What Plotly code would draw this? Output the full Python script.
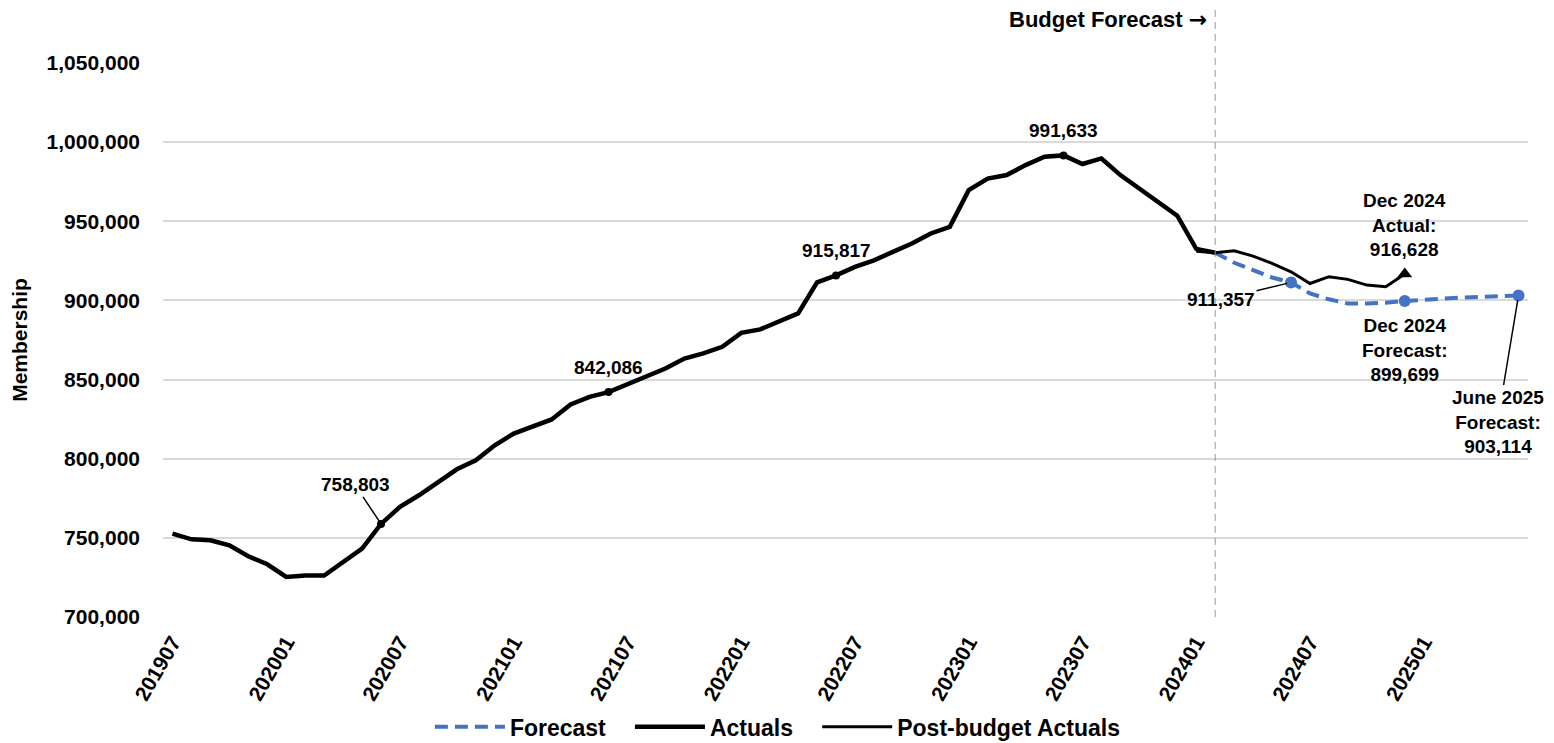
import plotly.graph_objects as go

# ---- categories (monthly, 201907 .. 202506)
months = []
y, m = 2019, 7
while (y, m) <= (2025, 6):
    months.append(f"{y}{m:02d}")
    m += 1
    if m > 12:
        m = 1
        y += 1

tick_labels = months[::6]

# ---- Actuals 201907 .. 202402
actuals = [752700, 749100, 748500, 745300, 738400, 733300, 725300, 726200, 726200, 734800,
           743200, 758803, 769600, 776900, 785300, 793300, 799000, 808500, 815900, 820100,
           824800, 834300, 839100, 842086, 847100, 851700, 857000, 863300, 866500, 870700,
           879500, 881700, 886500, 891800, 911400, 915817, 921200, 925300, 930700, 936000,
           942300, 946500, 969700, 977000, 979200, 985500, 990800, 991633, 986200, 989700,
           979200, 970800, 962300, 953500, 932600, 930100]
actuals_months = months[:len(actuals)]

# ---- Post-budget actuals 202401 .. 202412
post_actuals = [931000, 930100, 931400, 928000, 923400, 918100, 910700, 915000, 913300,
                909700, 908600, 916628]
post_months = months[54:54 + len(post_actuals)]

# ---- Forecast 202402 .. 202506
forecast = [930100, 923800, 919200, 914500, 911357, 904400, 900700, 898100, 898100, 898500,
            899699, 900600, 901300, 901800, 902200, 902500, 903114]
forecast_months = months[55:55 + len(forecast)]

actual_label_months = ["202006", "202106", "202206", "202306"]
forecast_label_months = ["202406", "202412", "202506"]
budget_month = "202402"

FONT = "Liberation Sans, Arial, sans-serif"
BLUE = "#4472C4"
PAD = "\u00a0" * 3

fig = go.Figure()

fig.add_trace(go.Scatter(
    x=forecast_months, y=forecast, name="Forecast" + PAD, mode="lines",
    line=dict(color=BLUE, width=4, dash="13px,7px"),
))
fig.add_trace(go.Scatter(
    x=actuals_months, y=actuals, name="Actuals" + PAD, mode="lines",
    line=dict(color="black", width=4.5),
))
fig.add_trace(go.Scatter(
    x=post_months, y=post_actuals, name="Post-budget Actuals", mode="lines",
    line=dict(color="black", width=3),
))

# markers on labelled points
a_lab_y = [actuals[actuals_months.index(mm)] for mm in actual_label_months]
fig.add_trace(go.Scatter(x=actual_label_months, y=a_lab_y, mode="markers",
                         marker=dict(color="black", size=8), showlegend=False, hoverinfo="skip"))
f_lab_y = [forecast[forecast_months.index(mm)] for mm in forecast_label_months]
fig.add_trace(go.Scatter(x=forecast_label_months, y=f_lab_y, mode="markers",
                         marker=dict(color=BLUE, size=12), showlegend=False, hoverinfo="skip"))
fig.add_trace(go.Scatter(x=[post_months[-1]], y=[post_actuals[-1]], mode="markers",
                         marker=dict(color="black", size=13, symbol="triangle-up"),
                         showlegend=False, hoverinfo="skip"))

LBL = dict(size=19, color="black")
ann = []
# 758,803 with leader line
v = a_lab_y[0]
ann.append(dict(x=months.index(actual_label_months[0]), y=v, xref="x", yref="y",
                text=f"{v:,}", showarrow=True, arrowhead=0, arrowwidth=1.5,
                arrowcolor="black", ax=-26, ay=-39, standoff=3, font=LBL))
# plain labels above points
for mm, v in zip(actual_label_months[1:], a_lab_y[1:]):
    ann.append(dict(x=months.index(mm), y=v, xref="x", yref="y", text=f"{v:,}",
                    showarrow=False, yanchor="middle", yshift=25, font=LBL))

f_vals = dict(zip(forecast_label_months, f_lab_y))
ann.append(dict(x=months.index("202406"), y=f_vals["202406"], xref="x", yref="y",
                text=f"{f_vals['202406']:,}", showarrow=True, arrowhead=0, arrowwidth=1.5,
                arrowcolor="black", ax=-70, ay=17, standoff=4, font=LBL))
ann.append(dict(x=months.index("202412"), y=post_actuals[-1], xref="x", yref="y",
                text=f"Dec 2024<br>Actual:<br>{post_actuals[-1]:,}", showarrow=False,
                yanchor="middle", yshift=49, font=LBL))
ann.append(dict(x=months.index("202412"), y=f_vals["202412"], xref="x", yref="y",
                text=f"Dec 2024<br>Forecast:<br>{f_vals['202412']:,}", showarrow=False,
                yanchor="middle", yshift=-49, font=LBL))
ann.append(dict(x=months.index("202506"), y=f_vals["202506"], xref="x", yref="y",
                text=f"June 2025<br>Forecast:<br>{f_vals['202506']:,}", showarrow=True,
                arrowhead=0, arrowwidth=1.5, arrowcolor="black", standoff=5,
                ax=-21, ay=126, font=LBL))
ann.append(dict(x=months.index(budget_month), y=1.078, xref="x", yref="paper",
                text='Budget Forecast <span style="font-family:DejaVu Sans">→</span>',
                showarrow=False, xanchor="right", yanchor="middle", xshift=-6,
                font=dict(size=22, color="black")))

# the page body has an 8px margin, so the figure is 8px smaller than the window
fig.update_layout(
    width=1546, height=735,
    margin=dict(l=155, r=26, t=55, b=126),
    paper_bgcolor="white", plot_bgcolor="white",
    font=dict(family=FONT, color="black", size=20, weight="bold"),
    annotations=ann,
    shapes=[dict(type="line", xref="x", yref="paper",
                 x0=months.index(budget_month), x1=months.index(budget_month),
                 y0=0, y1=1.096, line=dict(color="#999999", width=1, dash="7px,5px"))],
    legend=dict(orientation="h", xref="container", yref="container",
                x=0.498, xanchor="center", y=0.022, yanchor="middle",
                font=dict(size=23, color="black"), itemwidth=70,
                traceorder="normal"),
    xaxis=dict(type="category", categoryorder="array", categoryarray=months,
               range=[-0.5, len(months) - 0.5], automargin=False,
               tickmode="array", tickvals=tick_labels, ticktext=tick_labels,
               tickangle=-60, showgrid=False, showline=False, zeroline=False,
               ticks="", tickfont=dict(size=21), ticklabelstandoff=8),
    yaxis=dict(range=[700000, 1050000], dtick=50000, tickformat=",",
               showgrid=True, gridcolor="#d9d9d9", gridwidth=1.5, automargin=False,
               zeroline=False, showline=False, ticks="", ticklabelstandoff=22,
               tickfont=dict(size=21),
               title=dict(text="Membership", font=dict(size=21), standoff=14)),
)

fig.write_html("out.html")
